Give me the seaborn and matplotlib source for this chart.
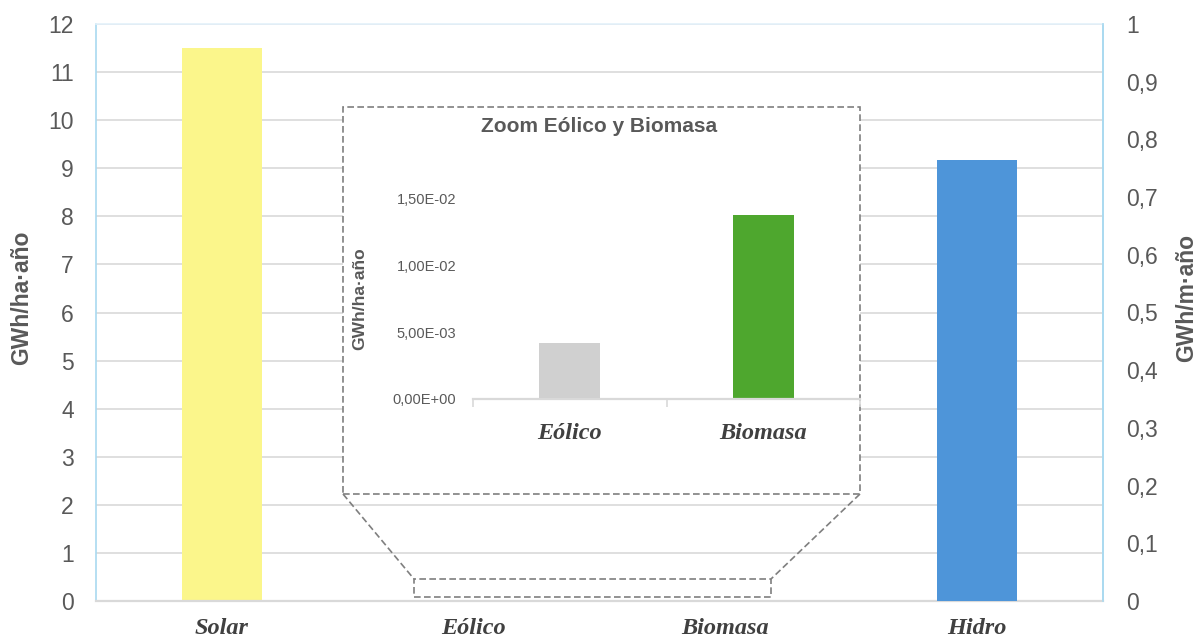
import matplotlib
matplotlib.use("Agg")
import matplotlib.pyplot as plt
from matplotlib.lines import Line2D
from matplotlib.patches import Rectangle
from matplotlib.ticker import FixedLocator, FuncFormatter
import pandas as pd
import seaborn as sns

# --- datos ---------------------------------------------------------------
categorias = ["Solar", "Eólico", "Biomasa", "Hidro"]
cat_ha = ["Solar", "Eólico", "Biomasa"]          # eje izquierdo (GWh/ha·año)
valores_ha = [11.5, 0.00416, 0.01377]
cat_m = ["Hidro"]                                   # eje derecho (GWh/m·año)
valores_m = [0.764]
cat_zoom = ["Eólico", "Biomasa"]
valores_zoom = [0.00416, 0.01377]
colores = {"Solar": "#FBF68B", "Eólico": "#D0D0D0",
           "Biomasa": "#4EA72E", "Hidro": "#4E95D9"}

ticks_izq = list(range(0, 13))
ticks_der = [i / 10 for i in range(0, 11)]
ticks_zoom = [0.0, 0.005, 0.010, 0.015]

# --- estilo --------------------------------------------------------------
sns.set_style("white")
plt.rcParams["font.family"] = ["Liberation Sans", "DejaVu Sans"]
GRIS_TXT = "#595959"
GRIS_REJ = "#D9D9D9"
AZUL_BORDE = "#A9D9F0"
SERIF = ["Liberation Serif", "DejaVu Serif"]

W, H = 1199, 643
fig = plt.figure(figsize=(W / 100, H / 100), dpi=100)


def fx(px):
    return px / W


def fy(py):
    return 1 - py / H


# --- gráfico principal ---------------------------------------------------
ax = fig.add_axes([fx(96), fy(601), fx(1103 - 96), (601 - 24) / H])
df_ha = pd.DataFrame({"cat": cat_ha, "val": valores_ha})
sns.barplot(data=df_ha, x="cat", y="val", hue="cat", order=categorias,
            palette=colores, saturation=1, width=0.318, legend=False,
            linewidth=0, ax=ax)
ax.set_xlim(-0.5, 3.5)
ax.set_ylim(0, 12)
ax.yaxis.set_major_locator(FixedLocator(ticks_izq))
ax.yaxis.grid(True, color=GRIS_REJ, linewidth=1.2)
ax.set_axisbelow(True)
ax.set_xlabel("")
ax.set_ylabel("GWh/ha·año", fontsize=16.5, fontweight="bold", color=GRIS_TXT,
              labelpad=11)
ax.yaxis.label.set_y(0.525)
ax.tick_params(axis="y", length=0, pad=16, labelsize=16.5, labelcolor=GRIS_TXT)
ax.tick_params(axis="x", length=0, pad=12)
ax.set_xticks(range(len(categorias)))
ax.set_xticklabels(categorias, fontsize=17.5, fontstyle="italic",
                   fontweight="bold", family=SERIF, color="#404040")
for lado, color, lw in [("left", AZUL_BORDE, 1.2), ("top", "#E3F1FA", 1.2),
                        ("bottom", GRIS_REJ, 1.6), ("right", AZUL_BORDE, 1.2)]:
    ax.spines[lado].set_color(color)
    ax.spines[lado].set_linewidth(lw)

# eje secundario para Hidro
ax2 = ax.twinx()
df_m = pd.DataFrame({"cat": cat_m, "val": valores_m})
sns.barplot(data=df_m, x="cat", y="val", hue="cat", order=categorias,
            palette=colores, saturation=1, width=0.318, legend=False,
            linewidth=0, ax=ax2)
ax2.set_xlim(-0.5, 3.5)
ax2.set_ylim(0, 1)
ax2.yaxis.set_major_locator(FixedLocator(ticks_der))
ax2.yaxis.set_major_formatter(
    FuncFormatter(lambda v, _: ("%g" % round(v, 1)).replace(".", ",")))
ax2.grid(False)
ax2.set_xlabel("")
ax2.set_ylabel("GWh/m·año", fontsize=16.5, fontweight="bold", color=GRIS_TXT,
               labelpad=12)
ax2.yaxis.label.set_y(0.525)
ax2.tick_params(axis="y", length=0, pad=17, labelsize=16.5, labelcolor=GRIS_TXT)
for lado in ["left", "top", "bottom"]:
    ax2.spines[lado].set_visible(False)
ax2.spines["right"].set_color(AZUL_BORDE)
ax2.spines["right"].set_linewidth(1.2)

# --- recuadro de zoom ----------------------------------------------------
TRAZO = dict(color="#7F7F7F", linewidth=1.2, linestyle=(0, (4, 2)))
fig.patches.append(Rectangle((fx(343), fy(494)), fx(860 - 343), (494 - 107) / H,
                             transform=fig.transFigure, facecolor="white",
                             edgecolor="#7F7F7F", linewidth=1.2,
                             linestyle=(0, (4, 2)), zorder=5))
fig.patches.append(Rectangle((fx(414), fy(597)), fx(771 - 414), (597 - 579) / H,
                             transform=fig.transFigure, fill=False,
                             edgecolor="#7F7F7F", linewidth=1.2,
                             linestyle=(0, (4, 2)), zorder=5))
fig.lines.append(Line2D([fx(343), fx(414)], [fy(494), fy(579)],
                        transform=fig.transFigure, zorder=5, **TRAZO))
fig.lines.append(Line2D([fx(860), fx(771)], [fy(494), fy(579)],
                        transform=fig.transFigure, zorder=5, **TRAZO))

fig.text(fx(599), fy(127), "Zoom Eólico y Biomasa", ha="center", va="center",
         fontsize=15, fontweight="bold", color=GRIS_TXT, zorder=6)

axz = fig.add_axes([fx(473), fy(399), fx(860 - 473), 200.4 / H], zorder=6)
axz.patch.set_alpha(0)
df_z = pd.DataFrame({"cat": cat_zoom, "val": valores_zoom})
sns.barplot(data=df_z, x="cat", y="val", hue="cat", order=cat_zoom,
            palette=colores, saturation=1, width=0.315, legend=False,
            linewidth=0, ax=axz)
axz.set_xlim(-0.5, 1.5)
axz.set_ylim(0, 0.015)
axz.yaxis.set_major_locator(FixedLocator(ticks_zoom))
axz.yaxis.set_major_formatter(
    FuncFormatter(lambda v, _: ("%.2E" % v).replace(".", ",")))
axz.grid(False)
axz.set_xlabel("")
axz.set_ylabel("GWh/ha·año", fontsize=12.5, fontweight="bold", color=GRIS_TXT,
               labelpad=18)
axz.tick_params(axis="y", length=0, pad=12, labelsize=10.5, labelcolor=GRIS_TXT)
axz.set_xticks(range(len(cat_zoom)))
axz.set_xticklabels(cat_zoom, fontsize=17.5, fontstyle="italic",
                    fontweight="bold", family=SERIF, color="#404040")
axz.tick_params(axis="x", which="major", length=0, pad=17)
axz.set_xticks([-0.5, 0.5, 1.5], minor=True)
axz.tick_params(axis="x", which="minor", length=6, width=1.2, color=GRIS_REJ,
                direction="out", bottom=True)
for lado in ["left", "top", "right"]:
    axz.spines[lado].set_visible(False)
axz.spines["bottom"].set_color(GRIS_REJ)
axz.spines["bottom"].set_linewidth(1.6)

fig.savefig("out.png", dpi=100)
